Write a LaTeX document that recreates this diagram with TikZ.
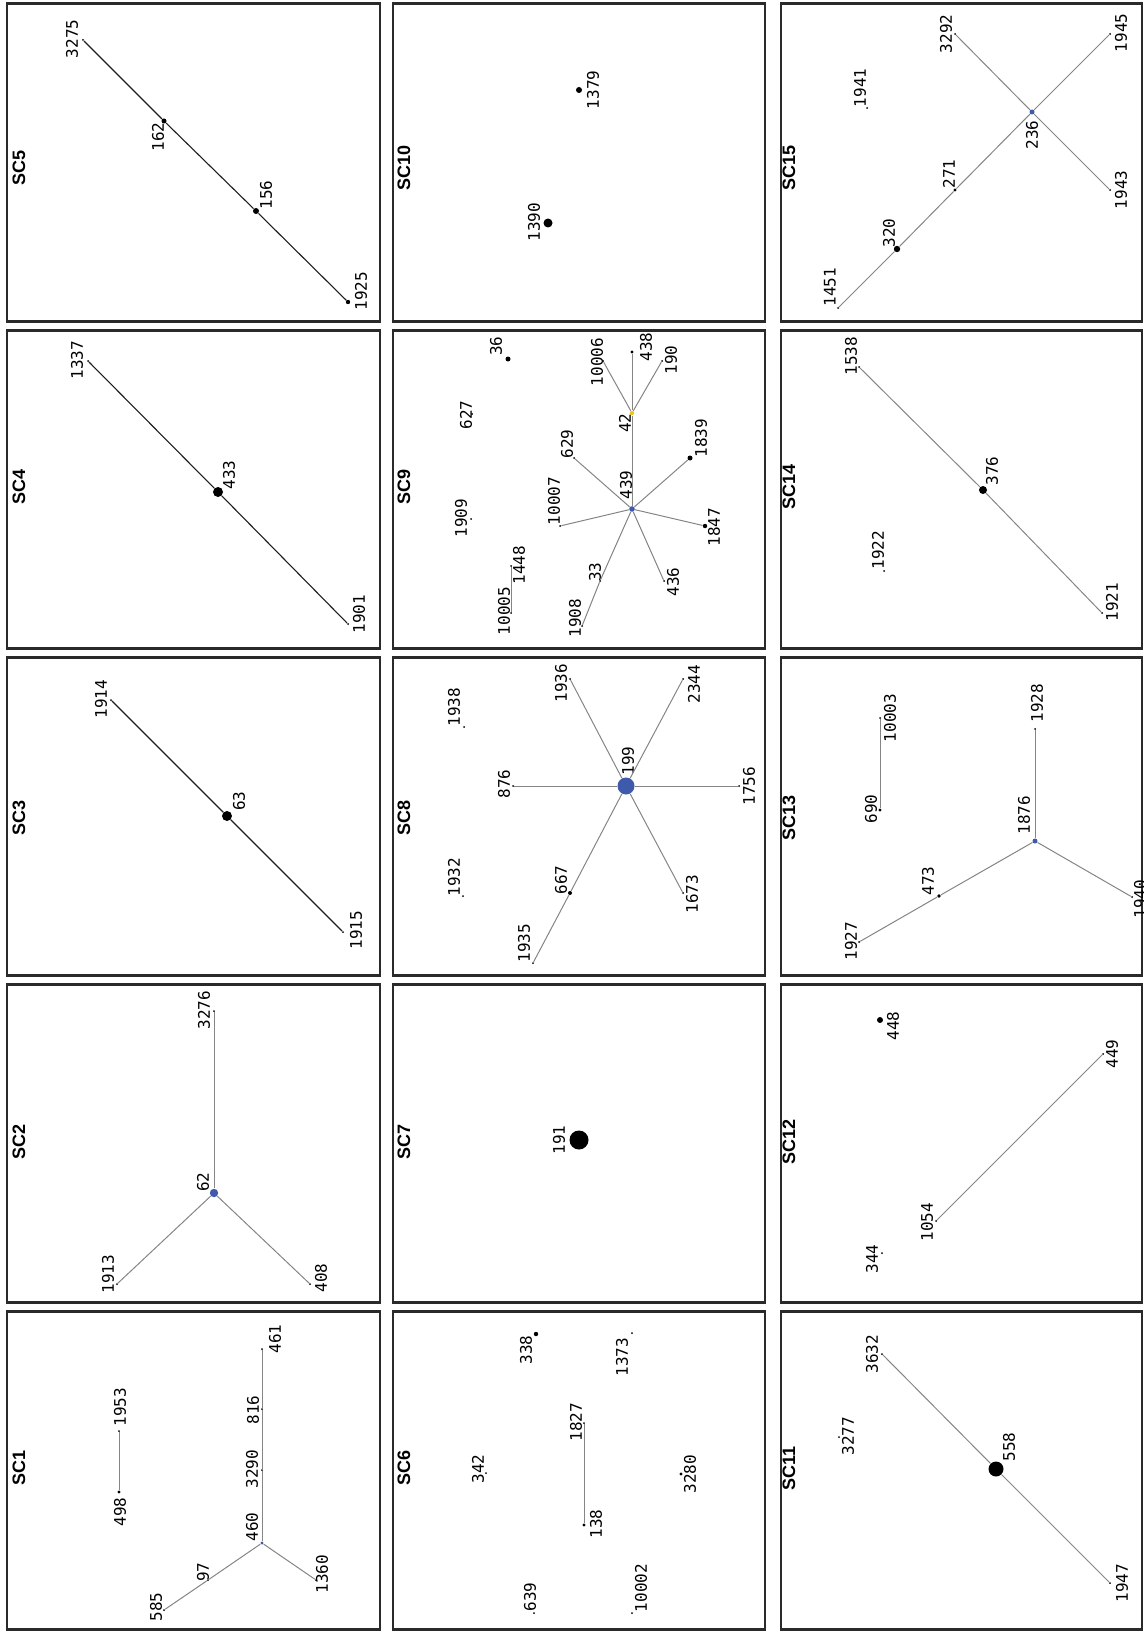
\documentclass[tikz,border=0pt]{standalone}
\usepackage{fontspec}
\usepackage{tikz}
\newfontfamily\numfont{DejaVu Sans Mono}
\newfontfamily\headfont{Liberation Sans}
\definecolor{HubBlue}{HTML}{3F5AAA}
\definecolor{Yolk}{HTML}{F5C518}
\definecolor{Frame}{HTML}{2A2A2A}
\definecolor{Wire}{HTML}{858585}
\definecolor{WireDark}{HTML}{1E1E1E}
\tikzset{
  panel/.style={draw=Frame,line width=1.1pt},
  sctitle/.style={font=\headfont\bfseries\fontsize{9pt}{10pt}\selectfont,rotate=90,inner sep=0pt},
  lbl/.style={font=\numfont\fontsize{8pt}{9pt}\selectfont,rotate=90,inner sep=0pt},
  vtx/.style={circle,fill=black,inner sep=0pt,minimum size=#1},
  vtx/.default=1pt,
  hub/.style={vtx=#1,fill=HubBlue},
  wire/.style={draw=Wire,line width=0.5pt},
  wiredark/.style={draw=WireDark,line width=0.55pt}
}

\begin{document}
\begin{tikzpicture}[x=0.5pt,y=-0.5pt]
  \useasboundingbox (0,0) rectangle (1144,1631);
  % panel frames
  \draw[panel] (7,3.5) rectangle (380,321.5);     \draw[panel] (393,3.5) rectangle (765,321.5);     \draw[panel] (781,3.5) rectangle (1142,321.5);
  \draw[panel] (7,330.5) rectangle (380,648.5);   \draw[panel] (393,330.5) rectangle (765,648.5);   \draw[panel] (781,330.5) rectangle (1142,648.5);
  \draw[panel] (7,657.5) rectangle (380,975.5);   \draw[panel] (393,657.5) rectangle (765,975.5);   \draw[panel] (781,657.5) rectangle (1142,975.5);
  \draw[panel] (7,984.5) rectangle (380,1302.5);  \draw[panel] (393,984.5) rectangle (765,1302.5);  \draw[panel] (781,984.5) rectangle (1142,1302.5);
  \draw[panel] (7,1311.5) rectangle (380,1629.5); \draw[panel] (393,1311.5) rectangle (765,1629.5); \draw[panel] (781,1311.5) rectangle (1142,1629.5);
  \node[sctitle] (h5) at (19,168) {SC5};   \node[sctitle] (h10) at (404,168) {SC10};  \node[sctitle] (h15) at (789,168) {SC15};
  \node[sctitle] (h4) at (19,487) {SC4};   \node[sctitle] (h9) at (404,487) {SC9};    \node[sctitle] (h14) at (789,487) {SC14};
  \node[sctitle] (h3) at (19,818) {SC3};   \node[sctitle] (h8) at (404,818) {SC8};    \node[sctitle] (h13) at (789,818) {SC13};
  \node[sctitle] (h2) at (19,1142) {SC2};  \node[sctitle] (h7) at (404,1142) {SC7};   \node[sctitle] (h12) at (789,1142) {SC12};
  \node[sctitle] (h1) at (19,1468) {SC1};  \node[sctitle] (h6) at (404,1468) {SC6};   \node[sctitle] (h11) at (789,1468) {SC11};

  % SC1
  \node[vtx=1.7pt] (n498) at (119,1492) {};  \node[lbl] (t498) at (120,1512) {498};
  \node[vtx] (n1953) at (119,1431) {};       \node[lbl] (t1953) at (120,1407) {1953};
  \node[hub=1.6pt] (n460) at (262,1543) {};  \node[lbl] (t460) at (252,1527) {460};
  \node[vtx] (n3290) at (262,1470) {};       \node[lbl] (t3290) at (252,1469) {3290};
  \node[vtx] (n816) at (262,1409) {};        \node[lbl] (t816) at (253,1410) {816};
  \node[vtx] (n461) at (262,1349) {};        \node[lbl] (t461) at (275,1339) {461};
  \node[vtx] (n97) at (208,1580) {};         \node[lbl] (t97) at (203,1572) {97};
  \node[vtx] (n585) at (164,1610) {};        \node[lbl] (t585) at (156,1607) {585};
  \node[vtx] (n1360) at (316,1580) {};       \node[lbl] (t1360) at (322,1574) {1360};
  \draw[wire] (n498) -- (n1953);
  \draw[wire] (n460) -- (n3290) -- (n816) -- (n461);
  \draw[wire] (n460) -- (n97) -- (n585);
  \draw[wire] (n460) -- (n1360);

  % SC2
  \node[hub=4.2pt] (n62) at (214,1193) {};   \node[lbl] (t62) at (203,1182) {62};
  \node[vtx] (n3276) at (214,1011) {};       \node[lbl] (t3276) at (204,1010) {3276};
  \node[vtx] (n1913) at (117,1284) {};       \node[lbl] (t1913) at (108,1274) {1913};
  \node[vtx] (n408) at (310,1284) {};        \node[lbl] (t408) at (321,1278) {408};
  \draw[wire] (n62) -- (n3276);
  \draw[wire] (n62) -- (n1913);
  \draw[wire] (n62) -- (n408);

  % SC3
  \node[vtx] (n1914) at (111,700) {};        \node[lbl] (t1914) at (101,699) {1914};
  \node[vtx=5pt] (n63) at (227,816) {};      \node[lbl] (t63) at (239,801) {63};
  \node[vtx] (n1915) at (343,932) {};        \node[lbl] (t1915) at (356,930) {1915};
  \draw[wiredark] (n1914) -- (n63) -- (n1915);

  % SC4
  \node[vtx] (n1337) at (88,361) {};         \node[lbl] (t1337) at (77,360) {1337};
  \node[vtx=5pt] (n433) at (218,492) {};     \node[lbl] (t433) at (229,475) {433};
  \node[vtx] (n1901) at (348,624) {};        \node[lbl] (t1901) at (359,614) {1901};
  \draw[wiredark] (n1337) -- (n433) -- (n1901);

  % SC5
  \node[vtx] (n3275) at (83,40) {};          \node[lbl] (t3275) at (72,39) {3275};
  \node[vtx=2.5pt] (n162) at (164,121) {};   \node[lbl] (t162) at (158,137) {162};
  \node[vtx=3pt] (n156) at (256,211) {};     \node[lbl] (t156) at (266,195) {156};
  \node[vtx=2.2pt] (n1925) at (348,302) {};  \node[lbl] (t1925) at (361,291) {1925};
  \draw[wiredark] (n3275) -- (n162) -- (n156) -- (n1925);

  % SC6
  \node[vtx=2.2pt] (n338) at (536,1334) {};  \node[lbl] (t338) at (526,1350) {338};
  \node[vtx] (n1373) at (632,1333) {};       \node[lbl] (t1373) at (622,1357) {1373};
  \node[vtx] (n1827) at (584,1423) {};       \node[lbl] (t1827) at (576,1422) {1827};
  \node[vtx=1.7pt] (n138) at (584,1525) {};  \node[lbl] (t138) at (596,1524) {138};
  \node[vtx] (n342) at (486,1473) {};        \node[lbl] (t342) at (478,1469) {342};
  \node[vtx=1.7pt] (n3280) at (681,1474) {}; \node[lbl] (t3280) at (690,1474) {3280};
  \node[vtx] (n639) at (534,1613) {};        \node[lbl] (t639) at (530,1597) {639};
  \node[vtx] (n10002) at (632,1613) {};      \node[lbl] (t10002) at (641,1588) {10002};
  \draw[wire] (n1827) -- (n138);

  % SC7
  \node[vtx=9.5pt] (n191) at (579,1140) {};  \node[lbl] (t191) at (559,1140) {191};

  % SC8
  \node[hub=8.5pt] (n199) at (626,786) {};   \node[lbl] (t199) at (628,761) {199};
  \node[vtx] (n876) at (513,786) {};         \node[lbl] (t876) at (504,784) {876};
  \node[vtx] (n1756) at (739,786) {};        \node[lbl] (t1756) at (749,786) {1756};
  \node[vtx] (n1936) at (570,679) {};        \node[lbl] (t1936) at (561,683) {1936};
  \node[vtx] (n2344) at (683,679) {};        \node[lbl] (t2344) at (694,684) {2344};
  \node[vtx=2pt] (n667) at (570,893) {};     \node[lbl] (t667) at (561,880) {667};
  \node[vtx] (n1935) at (533,963) {};        \node[lbl] (t1935) at (524,943) {1935};
  \node[vtx] (n1673) at (683,893) {};        \node[lbl] (t1673) at (692,894) {1673};
  \node[vtx] (n1938) at (464,727) {};        \node[lbl] (t1938) at (454,707) {1938};
  \node[vtx] (n1932) at (463,896) {};        \node[lbl] (t1932) at (454,877) {1932};
  \draw[wire] (n199) -- (n876);
  \draw[wire] (n199) -- (n1756);
  \draw[wire] (n199) -- (n1936);
  \draw[wire] (n199) -- (n2344);
  \draw[wire] (n199) -- (n667) -- (n1935);
  \draw[wire] (n199) -- (n1673);

  % SC9
  \node[vtx=2.5pt] (n36) at (508,359) {};    \node[lbl] (t36) at (496,346) {36};
  \node[vtx] (n627) at (472,414) {};         \node[lbl] (t627) at (466,415) {627};
  \node[vtx] (n1909) at (471,519) {};        \node[lbl] (t1909) at (461,518) {1909};
  \node[vtx] (n10005) at (511,613) {};       \node[lbl] (t10005) at (504,611) {10005};
  \node[vtx] (n1448) at (511,566) {};        \node[lbl] (t1448) at (519,565) {1448};
  \node[hub=2.8pt] (n439) at (632,509) {};   \node[lbl] (t439) at (626,485) {439};
  \node[vtx=2.2pt,fill=Yolk] (n42) at (632,413) {}; \node[lbl] (t42) at (625,423) {42};
  \node[vtx=1.7pt] (n438) at (632,352) {};   \node[lbl] (t438) at (646,347) {438};
  \node[vtx] (n10006) at (603,361) {};       \node[lbl] (t10006) at (597,362) {10006};
  \node[vtx] (n190) at (662,361) {};         \node[lbl] (t190) at (671,360) {190};
  \node[vtx] (n629) at (574,458) {};         \node[lbl] (t629) at (567,444) {629};
  \node[vtx=2.5pt] (n1839) at (690,458) {};  \node[lbl] (t1839) at (701,438) {1839};
  \node[vtx] (n10007) at (560,526) {};       \node[lbl] (t10007) at (554,501) {10007};
  \node[vtx=2.2pt] (n1847) at (705,526) {};  \node[lbl] (t1847) at (714,527) {1847};
  \node[vtx] (n33) at (600,581) {};          \node[lbl] (t33) at (595,572) {33};
  \node[vtx] (n1908) at (582,626) {};        \node[lbl] (t1908) at (575,618) {1908};
  \node[vtx] (n436) at (664,581) {};         \node[lbl] (t436) at (673,582) {436};
  \draw[wire] (n10005) -- (n1448);
  \draw[wire] (n439) -- (n42);
  \draw[wire] (n42) -- (n438);
  \draw[wire] (n42) -- (n10006);
  \draw[wire] (n42) -- (n190);
  \draw[wire] (n439) -- (n629);
  \draw[wire] (n439) -- (n1839);
  \draw[wire] (n439) -- (n10007);
  \draw[wire] (n439) -- (n1847);
  \draw[wire] (n439) -- (n33) -- (n1908);
  \draw[wire] (n439) -- (n436);

  % SC10
  \node[vtx=4.5pt] (n1390) at (548,223) {};  \node[lbl] (t1390) at (534,222) {1390};
  \node[vtx=3pt] (n1379) at (579,90) {};     \node[lbl] (t1379) at (593,90) {1379};

  % SC11
  \node[vtx=7.5pt] (n558) at (996,1469) {};  \node[lbl] (t558) at (1009,1447) {558};
  \node[vtx] (n3632) at (882,1354) {};       \node[lbl] (t3632) at (872,1354) {3632};
  \node[vtx] (n1947) at (1110,1583) {};      \node[lbl] (t1947) at (1122,1583) {1947};
  \node[vtx] (n3277) at (839,1437) {};       \node[lbl] (t3277) at (848,1436) {3277};
  \draw[wire] (n3632) -- (n558) -- (n1947);

  % SC12
  \node[vtx=3pt] (n448) at (880,1020) {};    \node[lbl] (t448) at (893,1026) {448};
  \node[vtx] (n449) at (1103,1054) {};       \node[lbl] (t449) at (1112,1054) {449};
  \node[vtx] (n1054) at (936,1221) {};       \node[lbl] (t1054) at (927,1222) {1054};
  \node[vtx] (n344) at (882,1253) {};        \node[lbl] (t344) at (872,1259) {344};
  \draw[wire] (n1054) -- (n449);

  % SC13
  \node[hub=2.5pt] (n1876) at (1035,841) {}; \node[lbl] (t1876) at (1024,815) {1876};
  \node[vtx] (n1928) at (1035,729) {};       \node[lbl] (t1928) at (1037,703) {1928};
  \node[vtx] (n1940) at (1132,897) {};       \node[lbl] (t1940) at (1140,899) {1940};
  \node[vtx=1.8pt] (n473) at (939,896) {};   \node[lbl] (t473) at (928,881) {473};
  \node[vtx] (n1927) at (859,942) {};        \node[lbl] (t1927) at (851,941) {1927};
  \node[vtx=1.7pt] (n690) at (880,810) {};   \node[lbl] (t690) at (871,809) {690};
  \node[vtx] (n10003) at (880,718) {};       \node[lbl] (t10003) at (890,718) {10003};
  \draw[wire] (n690) -- (n10003);
  \draw[wire] (n1876) -- (n1928);
  \draw[wire] (n1876) -- (n1940);
  \draw[wire] (n1876) -- (n473) -- (n1927);

  % SC14
  \node[vtx=4pt] (n376) at (983,490) {};     \node[lbl] (t376) at (992,471) {376};
  \node[vtx] (n1538) at (859,367) {};        \node[lbl] (t1538) at (851,356) {1538};
  \node[vtx] (n1921) at (1102,613) {};       \node[lbl] (t1921) at (1112,602) {1921};
  \node[vtx] (n1922) at (884,571) {};        \node[lbl] (t1922) at (878,550) {1922};
  \draw[wire] (n1538) -- (n376) -- (n1921);

  % SC15
  \node[hub=2.5pt] (n236) at (1032,112) {};  \node[lbl] (t236) at (1032,135) {236};
  \node[vtx] (n3292) at (955,34) {};         \node[lbl] (t3292) at (946,34) {3292};
  \node[vtx] (n1945) at (1110,34) {};        \node[lbl] (t1945) at (1121,33) {1945};
  \node[vtx] (n1943) at (1110,190) {};       \node[lbl] (t1943) at (1121,190) {1943};
  \node[vtx=1.7pt] (n271) at (955,190) {};   \node[lbl] (t271) at (949,174) {271};
  \node[vtx=3.2pt] (n320) at (897,249) {};   \node[lbl] (t320) at (889,233) {320};
  \node[vtx] (n1451) at (838,308) {};        \node[lbl] (t1451) at (830,287) {1451};
  \node[vtx] (n1941) at (867,108) {};        \node[lbl] (t1941) at (860,88) {1941};
  \draw[wire] (n236) -- (n3292);
  \draw[wire] (n236) -- (n1945);
  \draw[wire] (n236) -- (n1943);
  \draw[wire] (n236) -- (n271) -- (n320) -- (n1451);
\end{tikzpicture}
\end{document}
